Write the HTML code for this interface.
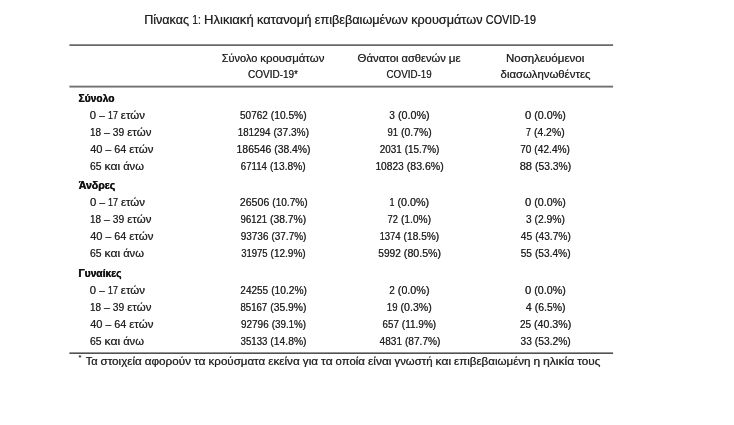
<!DOCTYPE html>
<html lang="el">
<head>
<meta charset="utf-8">
<title>Πίνακας 1: Ηλικιακή κατανομή επιβεβαιωμένων κρουσμάτων COVID-19</title>
<style>
html,body{margin:0;padding:0;background:#fff}
body{position:relative;width:734px;height:425px;overflow:hidden;font:400 11.26px/20px "Liberation Sans",sans-serif;color:#222}
svg{position:absolute;left:0;top:0}
h1,p,table{margin:0;padding:0;border:0;border-collapse:collapse;font:inherit}
th,td{padding:0;font:inherit}
span{position:absolute;height:20px;white-space:nowrap;font:400 11.26px/20px "Liberation Sans",sans-serif;transform-origin:0 0}
.g{text-shadow:0.25px 0 0 rgba(34,34,34,0.39),-0.25px 0 0 rgba(34,34,34,0.39)}
.n{text-shadow:0.25px 0 0 rgba(34,34,34,0.42),-0.25px 0 0 rgba(34,34,34,0.42)}
.b{font-weight:700;color:#111;text-shadow:0.25px 0 0 rgba(17,17,17,0.7),-0.25px 0 0 rgba(17,17,17,0.7)}
.h{font-size:12.51px}
.s{font-size:6.5px}
</style>
</head>
<body>
<svg width="734" height="425" viewBox="0 0 734 425" aria-hidden="true">
<rect x="69.4" y="44" width="543.7" height="1" fill="#8e8e8e"/>
<rect x="69.4" y="45" width="543.7" height="1" fill="#686868"/>
<rect x="69.4" y="85" width="543.7" height="1" fill="#d0d0d0"/>
<rect x="69.4" y="86" width="543.7" height="1" fill="#707070"/>
<rect x="69.4" y="87" width="543.7" height="1" fill="#b0b0b0"/>
<rect x="69.4" y="352" width="543.7" height="1" fill="#949494"/>
<rect x="69.4" y="353" width="543.7" height="1" fill="#525252"/>
</svg>
<h1><span class="g h" style="left:144px;top:10px;transform:translateX(0.13px) scaleX(1.005)">Πίνακας</span> <span class="g h" style="left:192px;top:10px;transform:translateX(0.34px) scaleX(0.807)">1:</span> <span class="g h" style="left:204px;top:10px;transform:translateX(0.09px) scaleX(1.043)">Ηλικιακή</span> <span class="g h" style="left:256px;top:10px;transform:translateX(0.98px) scaleX(1.034)">κατανομή</span> <span class="g h" style="left:314px;top:10px;transform:translateX(0.77px) scaleX(1.015)">επιβεβαιωμένων</span> <span class="g h" style="left:411px;top:10px;transform:translateX(0.24px) scaleX(1.017)">κρουσμάτων</span> <span class="g h" style="left:485px;top:10px;transform:translateX(0.79px) scaleX(0.87)">COVID-19</span></h1>
<table>
<thead>
<tr>
<th></th>
<th><span class="g" style="left:221px;top:48px;transform:translateX(0.7px) scaleX(0.976)">Σύνολο</span> <span class="g" style="left:260px;top:48px;transform:translateX(0.3px) scaleX(1.016)">κρουσμάτων</span> <span class="g" style="left:247px;top:64px;transform:translateX(0.93px) scaleX(0.89)">COVID-19*</span></th>
<th><span class="g" style="left:357px;top:48px;transform:translateX(0.61px) scaleX(1.011)">Θάνατοι</span> <span class="g" style="left:401px;top:48px;transform:translateX(0.47px) scaleX(0.991)">ασθενών</span> <span class="g" style="left:448px;top:48px;transform:translateX(0.8px) scaleX(1.034)">με</span> <span class="g" style="left:386px;top:64px;transform:translateX(0.52px) scaleX(0.87)">COVID-19</span></th>
<th><span class="g" style="left:506px;top:48px;transform:translateX(0.02px) scaleX(1.022)">Νοσηλευόμενοι</span> <span class="g" style="left:500px;top:64px;transform:translateX(0.54px) scaleX(1.012)">διασωληνωθέντες</span></th>
</tr>
</thead>
<tbody>
<tr><th colspan="4"><span class="b" style="left:78px;top:88px;transform:translateX(0.49px) scaleX(0.914)">Σύνολο</span></th></tr>
<tr>
<td><span class="g" style="left:89px;top:105px;transform:translateX(0.86px) scaleX(1.002)">0</span> <span class="g" style="left:99px;top:105px;transform:translateX(0.12px) scaleX(0.935)">–</span> <span class="g" style="left:107px;top:105px;transform:translateX(0.9px) scaleX(0.8)">17</span> <span class="g" style="left:120px;top:105px;transform:translateX(0.83px) scaleX(1.019)">ετών</span></td>
<td><span class="n" style="left:239px;top:105px;transform:translateX(0.99px) scaleX(0.89)">50762</span> <span class="n" style="left:270px;top:105px;transform:translateX(0.83px) scaleX(0.907)">(10.5%)</span></td>
<td><span class="n" style="left:389px;top:105px;transform:translateX(0.29px) scaleX(0.898)">3</span> <span class="n" style="left:397px;top:105px;transform:translateX(0.9px) scaleX(0.957)">(0.0%)</span></td>
<td><span class="n" style="left:524px;top:105px;transform:translateX(0.92px) scaleX(1.002)">0</span> <span class="n" style="left:534px;top:105px;transform:translateX(0.19px) scaleX(0.957)">(0.0%)</span></td>
</tr>
<tr>
<td><span class="g" style="left:89px;top:122px;transform:translateX(0.93px) scaleX(0.885)">18</span> <span class="g" style="left:103px;top:122px;transform:translateX(0.99px) scaleX(0.935)">–</span> <span class="g" style="left:112px;top:122px;transform:translateX(0.83px) scaleX(0.91)">39</span> <span class="g" style="left:127px;top:122px;transform:translateX(0.21px) scaleX(1.019)">ετών</span></td>
<td><span class="n" style="left:237px;top:122px;transform:translateX(0.66px) scaleX(0.875)">181294</span> <span class="n" style="left:273px;top:122px;transform:translateX(0.49px) scaleX(0.902)">(37.3%)</span></td>
<td><span class="n" style="left:387px;top:122px;transform:translateX(0.47px) scaleX(0.844)">91</span> <span class="n" style="left:401px;top:122px;transform:translateX(0.01px) scaleX(0.926)">(0.7%)</span></td>
<td><span class="n" style="left:525px;top:122px;transform:translateX(0.92px) scaleX(0.8)">7</span> <span class="n" style="left:533px;top:122px;transform:translateX(0.91px) scaleX(0.927)">(4.2%)</span></td>
</tr>
<tr>
<td><span class="g" style="left:90px;top:139px;transform:translateX(0.14px) scaleX(0.98)">40</span> <span class="g" style="left:105px;top:139px;transform:translateX(0.39px) scaleX(0.935)">–</span> <span class="g" style="left:114px;top:139px;transform:translateX(0.23px) scaleX(0.958)">64</span> <span class="g" style="left:129px;top:139px;transform:translateX(0.2px) scaleX(1.019)">ετών</span></td>
<td><span class="n" style="left:236px;top:139px;transform:translateX(0.6px) scaleX(0.923)">186546</span> <span class="n" style="left:274px;top:139px;transform:translateX(0.23px) scaleX(0.92)">(38.4%)</span></td>
<td><span class="n" style="left:379px;top:139px;transform:translateX(0.83px) scaleX(0.876)">2031</span> <span class="n" style="left:404px;top:139px;transform:translateX(0.75px) scaleX(0.88)">(15.7%)</span></td>
<td><span class="n" style="left:520px;top:139px;transform:translateX(0.22px) scaleX(0.89)">70</span> <span class="n" style="left:534px;top:139px;transform:translateX(0.34px) scaleX(0.905)">(42.4%)</span></td>
</tr>
<tr>
<td><span class="g" style="left:89px;top:156px;transform:translateX(0.96px) scaleX(0.925)">65</span> <span class="g" style="left:104px;top:156px;transform:translateX(0.52px) scaleX(1.079)">και</span> <span class="g" style="left:123px;top:156px;transform:translateX(0.14px) scaleX(0.995)">άνω</span></td>
<td><span class="n" style="left:240px;top:156px;transform:translateX(0.82px) scaleX(0.856)">67114</span> <span class="n" style="left:269px;top:156px;transform:translateX(0.88px) scaleX(0.907)">(13.8%)</span></td>
<td><span class="n" style="left:375px;top:156px;transform:translateX(0.42px) scaleX(0.907)">10823</span> <span class="n" style="left:406px;top:156px;transform:translateX(0.77px) scaleX(0.939)">(83.6%)</span></td>
<td><span class="n" style="left:519px;top:156px;transform:translateX(0.67px) scaleX(0.991)">88</span> <span class="n" style="left:535px;top:156px;transform:translateX(0.06px) scaleX(0.918)">(53.3%)</span></td>
</tr>
</tbody>
<tbody>
<tr><th colspan="4"><span class="b" style="left:78px;top:175px;transform:translateX(0.7px) scaleX(0.94)">Άνδρες</span></th></tr>
<tr>
<td><span class="g" style="left:89px;top:192px;transform:translateX(0.92px) scaleX(1.002)">0</span> <span class="g" style="left:99px;top:192px;transform:translateX(0.18px) scaleX(0.935)">–</span> <span class="g" style="left:107px;top:192px;transform:translateX(0.96px) scaleX(0.8)">17</span> <span class="g" style="left:120px;top:192px;transform:translateX(0.89px) scaleX(1.019)">ετών</span></td>
<td><span class="n" style="left:239px;top:192px;transform:translateX(0.86px) scaleX(0.94)">26506</span> <span class="n" style="left:272px;top:192px;transform:translateX(0.27px) scaleX(0.897)">(10.7%)</span></td>
<td><span class="n" style="left:389px;top:192px;transform:translateX(0.45px) scaleX(0.8)">1</span> <span class="n" style="left:397px;top:192px;transform:translateX(0.38px) scaleX(0.957)">(0.0%)</span></td>
<td><span class="n" style="left:524px;top:192px;transform:translateX(0.91px) scaleX(1.002)">0</span> <span class="n" style="left:534px;top:192px;transform:translateX(0.18px) scaleX(0.957)">(0.0%)</span></td>
</tr>
<tr>
<td><span class="g" style="left:89px;top:209px;transform:translateX(0.92px) scaleX(0.885)">18</span> <span class="g" style="left:103px;top:209px;transform:translateX(0.98px) scaleX(0.935)">–</span> <span class="g" style="left:112px;top:209px;transform:translateX(0.82px) scaleX(0.91)">39</span> <span class="g" style="left:127px;top:209px;transform:translateX(0.2px) scaleX(1.019)">ετών</span></td>
<td><span class="n" style="left:240px;top:209px;transform:translateX(0.61px) scaleX(0.843)">96121</span> <span class="n" style="left:269px;top:209px;transform:translateX(0.98px) scaleX(0.919)">(38.7%)</span></td>
<td><span class="n" style="left:387px;top:209px;transform:translateX(0.57px) scaleX(0.831)">72</span> <span class="n" style="left:400px;top:209px;transform:translateX(0.96px) scaleX(0.908)">(1.0%)</span></td>
<td><span class="n" style="left:525px;top:209px;transform:translateX(0.93px) scaleX(0.898)">3</span> <span class="n" style="left:534px;top:209px;transform:translateX(0.54px) scaleX(0.92)">(2.9%)</span></td>
</tr>
<tr>
<td><span class="g" style="left:90px;top:226px;transform:translateX(0.14px) scaleX(0.98)">40</span> <span class="g" style="left:105px;top:226px;transform:translateX(0.39px) scaleX(0.935)">–</span> <span class="g" style="left:114px;top:226px;transform:translateX(0.23px) scaleX(0.958)">64</span> <span class="g" style="left:129px;top:226px;transform:translateX(0.2px) scaleX(1.019)">ετών</span></td>
<td><span class="n" style="left:240px;top:226px;transform:translateX(0.72px) scaleX(0.886)">93736</span> <span class="n" style="left:271px;top:226px;transform:translateX(0.44px) scaleX(0.887)">(37.7%)</span></td>
<td><span class="n" style="left:379px;top:226px;transform:translateX(0.63px) scaleX(0.838)">1374</span> <span class="n" style="left:403px;top:226px;transform:translateX(0.59px) scaleX(0.905)">(18.5%)</span></td>
<td><span class="n" style="left:520px;top:226px;transform:translateX(0.63px) scaleX(0.92)">45</span> <span class="n" style="left:535px;top:226px;transform:translateX(0.13px) scaleX(0.906)">(43.7%)</span></td>
</tr>
<tr>
<td><span class="g" style="left:89px;top:243px;transform:translateX(0.96px) scaleX(0.925)">65</span> <span class="g" style="left:104px;top:243px;transform:translateX(0.52px) scaleX(1.079)">και</span> <span class="g" style="left:123px;top:243px;transform:translateX(0.14px) scaleX(0.995)">άνω</span></td>
<td><span class="n" style="left:241px;top:243px;transform:translateX(0.19px) scaleX(0.844)">31975</span> <span class="n" style="left:270px;top:243px;transform:translateX(0.58px) scaleX(0.891)">(12.9%)</span></td>
<td><span class="n" style="left:378px;top:243px;transform:translateX(0.26px) scaleX(0.903)">5992</span> <span class="n" style="left:403px;top:243px;transform:translateX(0.86px) scaleX(0.946)">(80.5%)</span></td>
<td><span class="n" style="left:520px;top:243px;transform:translateX(0.72px) scaleX(0.896)">55</span> <span class="n" style="left:534px;top:243px;transform:translateX(0.93px) scaleX(0.904)">(53.4%)</span></td>
</tr>
</tbody>
<tbody>
<tr><th colspan="4"><span class="b" style="left:78px;top:263px;transform:translateX(0.46px) scaleX(0.914)">Γυναίκες</span></th></tr>
<tr>
<td><span class="g" style="left:89px;top:280px;transform:translateX(0.86px) scaleX(1.002)">0</span> <span class="g" style="left:99px;top:280px;transform:translateX(0.12px) scaleX(0.935)">–</span> <span class="g" style="left:107px;top:280px;transform:translateX(0.9px) scaleX(0.8)">17</span> <span class="g" style="left:120px;top:280px;transform:translateX(0.83px) scaleX(1.019)">ετών</span></td>
<td><span class="n" style="left:240px;top:280px;transform:translateX(0.37px) scaleX(0.889)">24255</span> <span class="n" style="left:271px;top:280px;transform:translateX(0.17px) scaleX(0.908)">(10.2%)</span></td>
<td><span class="n" style="left:389px;top:280px;transform:translateX(0.23px) scaleX(0.89)">2</span> <span class="n" style="left:397px;top:280px;transform:translateX(0.8px) scaleX(0.957)">(0.0%)</span></td>
<td><span class="n" style="left:524px;top:280px;transform:translateX(0.92px) scaleX(1.002)">0</span> <span class="n" style="left:534px;top:280px;transform:translateX(0.19px) scaleX(0.957)">(0.0%)</span></td>
</tr>
<tr>
<td><span class="g" style="left:89px;top:297px;transform:translateX(0.93px) scaleX(0.885)">18</span> <span class="g" style="left:103px;top:297px;transform:translateX(0.99px) scaleX(0.935)">–</span> <span class="g" style="left:112px;top:297px;transform:translateX(0.83px) scaleX(0.91)">39</span> <span class="g" style="left:127px;top:297px;transform:translateX(0.21px) scaleX(1.019)">ετών</span></td>
<td><span class="n" style="left:240px;top:297px;transform:translateX(0.39px) scaleX(0.858)">85167</span> <span class="n" style="left:270px;top:297px;transform:translateX(0.22px) scaleX(0.918)">(35.9%)</span></td>
<td><span class="n" style="left:386px;top:297px;transform:translateX(0.76px) scaleX(0.861)">19</span> <span class="n" style="left:400px;top:297px;transform:translateX(0.53px) scaleX(0.944)">(0.3%)</span></td>
<td><span class="n" style="left:525px;top:297px;transform:translateX(0.7px) scaleX(0.958)">4</span> <span class="n" style="left:534px;top:297px;transform:translateX(0.68px) scaleX(0.93)">(6.5%)</span></td>
</tr>
<tr>
<td><span class="g" style="left:90px;top:314px;transform:translateX(0.14px) scaleX(0.98)">40</span> <span class="g" style="left:105px;top:314px;transform:translateX(0.39px) scaleX(0.935)">–</span> <span class="g" style="left:114px;top:314px;transform:translateX(0.23px) scaleX(0.958)">64</span> <span class="g" style="left:129px;top:314px;transform:translateX(0.2px) scaleX(1.019)">ετών</span></td>
<td><span class="n" style="left:240px;top:314px;transform:translateX(0.88px) scaleX(0.889)">92796</span> <span class="n" style="left:271px;top:314px;transform:translateX(0.68px) scaleX(0.874)">(39.1%)</span></td>
<td><span class="n" style="left:382px;top:314px;transform:translateX(0.58px) scaleX(0.869)">657</span> <span class="n" style="left:401px;top:314px;transform:translateX(0.87px) scaleX(0.889)">(11.9%)</span></td>
<td><span class="n" style="left:519px;top:314px;transform:translateX(0.89px) scaleX(0.896)">25</span> <span class="n" style="left:534px;top:314px;transform:translateX(0.09px) scaleX(0.943)">(40.3%)</span></td>
</tr>
<tr>
<td><span class="g" style="left:89px;top:331px;transform:translateX(0.95px) scaleX(0.925)">65</span> <span class="g" style="left:104px;top:331px;transform:translateX(0.51px) scaleX(1.079)">και</span> <span class="g" style="left:123px;top:331px;transform:translateX(0.14px) scaleX(0.995)">άνω</span></td>
<td><span class="n" style="left:240px;top:331px;transform:translateX(0.6px) scaleX(0.856)">35133</span> <span class="n" style="left:270px;top:331px;transform:translateX(0.37px) scaleX(0.917)">(14.8%)</span></td>
<td><span class="n" style="left:379px;top:331px;transform:translateX(0.6px) scaleX(0.895)">4831</span> <span class="n" style="left:404px;top:331px;transform:translateX(0.97px) scaleX(0.899)">(87.7%)</span></td>
<td><span class="n" style="left:520px;top:331px;transform:translateX(0.55px) scaleX(0.898)">33</span> <span class="n" style="left:534px;top:331px;transform:translateX(0.77px) scaleX(0.914)">(53.2%)</span></td>
</tr>
</tbody>
</table>
<p><span class="g s" style="left:78px;top:348px;transform:translateX(0.6px) scaleX(1.13)">*</span> <span class="g" style="left:85px;top:351px;transform:translateX(0.65px) scaleX(0.978)">Τα</span> <span class="g" style="left:100px;top:351px;transform:translateX(0.51px) scaleX(1.034)">στοιχεία</span> <span class="g" style="left:144px;top:351px;transform:translateX(0.76px) scaleX(1.039)">αφορούν</span> <span class="g" style="left:193px;top:351px;transform:translateX(0.99px) scaleX(1.071)">τα</span> <span class="g" style="left:208px;top:351px;transform:translateX(0.54px) scaleX(1.027)">κρούσματα</span> <span class="g" style="left:268px;top:351px;transform:translateX(0.16px) scaleX(1.044)">εκείνα</span> <span class="g" style="left:302px;top:351px;transform:translateX(0.77px) scaleX(1.044)">για</span> <span class="g" style="left:321px;top:351px;transform:translateX(0.04px) scaleX(1.071)">τα</span> <span class="g" style="left:335px;top:351px;transform:translateX(0.58px) scaleX(1.015)">οποία</span> <span class="g" style="left:367px;top:351px;transform:translateX(0.96px) scaleX(1.063)">είναι</span> <span class="g" style="left:394px;top:351px;transform:translateX(0.49px) scaleX(1.008)">γνωστή</span> <span class="g" style="left:435px;top:351px;transform:translateX(0.46px) scaleX(1.079)">και</span> <span class="g" style="left:454px;top:351px;transform:translateX(0.08px) scaleX(1.027)">επιβεβαιωμένη</span> <span class="g" style="left:533px;top:351px;transform:translateX(0.46px) scaleX(1.065)">η</span> <span class="g" style="left:543px;top:351px;transform:translateX(0.12px) scaleX(1.07)">ηλικία</span> <span class="g" style="left:577px;top:351px;transform:translateX(0.15px) scaleX(1.047)">τους</span></p>
</body>
</html>
